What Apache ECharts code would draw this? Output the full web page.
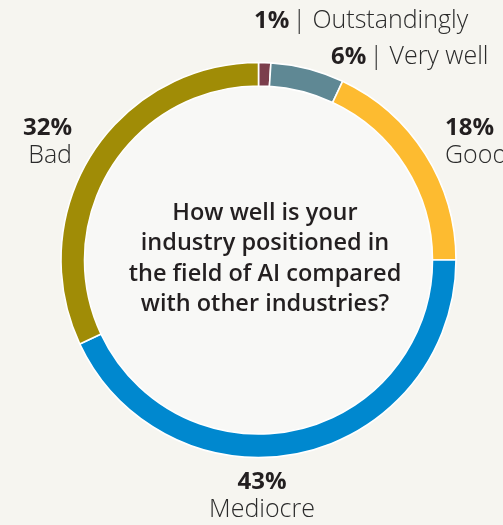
<!DOCTYPE html>
<html>
<head>
<meta charset="utf-8">
<script src="https://cdn.jsdelivr.net/npm/echarts@6/dist/echarts.min.js"></script>
<style>
  html, body { margin: 0; padding: 0; background: #f6f5f0; }
  #chart { width: 503px; height: 525px; }
</style>
</head>
<body>
<div id="chart"></div>
<script>
// Survey answers, clockwise from the top of the ring
const categories = ['Outstandingly', 'Very well', 'Good', 'Mediocre', 'Bad'];
const shares = [1, 6, 18, 43, 32];
const sliceColors = ['#7b3e4c', '#5f8894', '#fdbb30', '#0088cf', '#a08c06'];
const question = 'How well is your\nindustry positioned in\nthe field of AI compared\nwith other industries?';

// Where each answer's label sits around the ring
const labelSpots = [
  { x: 254, y: 21, align: 'left' },
  { x: 331, y: 57, align: 'left' },
  { x: 445, y: 142, align: 'left' },
  { x: 262, y: 496, align: 'center' },
  { x: 72, y: 142, align: 'right' }
];
const inlineLabel = [true, true, false, false, false];

const FONT = 'Open Sans';

const chart = echarts.init(document.getElementById('chart'), null, { renderer: 'canvas' });

chart.setOption({
  backgroundColor: '#f6f5f0',
  animation: false,
  title: {
    text: question,
    left: 260,
    top: 193,
    textAlign: 'center',
    textStyle: {
      fontFamily: FONT,
      fontWeight: 600,
      fontSize: 23.5,
      lineHeight: 30.5,
      color: '#231f20'
    }
  },
  series: [
    {
      // pale inner disc
      type: 'pie',
      silent: true,
      center: [258.5, 260],
      radius: [0, 174],
      z: 1,
      label: { show: false },
      labelLine: { show: false },
      itemStyle: { color: '#f8f8f6' },
      data: [{ value: 1, name: 'disc' }]
    },
    {
      type: 'pie',
      center: [258.5, 260],
      radius: [174, 197.5],
      startAngle: 90,
      clockwise: true,
      z: 2,
      itemStyle: { borderColor: '#ffffff', borderWidth: 1.6 },
      labelLine: { show: false },
      label: {
        show: true,
        position: 'outside',
        overflow: 'none',
        fontFamily: FONT,
        formatter: function (p) {
          const i = p.dataIndex;
          return inlineLabel[i]
            ? '{p|' + p.value + '%} {s|| ' + p.name + '}'
            : '{p|' + p.value + '%}\n{n|' + p.name + '}';
        },
        rich: {
          p: { fontFamily: FONT, fontWeight: 'bold', fontSize: 24, color: '#231f20', lineHeight: 27 },
          n: { fontFamily: FONT, fontWeight: 300, fontSize: 25, color: '#2b2b2b', lineHeight: 28 },
          s: { fontFamily: FONT, fontWeight: 300, fontSize: 25, color: '#2b2b2b', lineHeight: 27 }
        }
      },
      labelLayout: function (params) {
        const spot = labelSpots[params.dataIndex];
        return { x: spot.x, y: spot.y, align: spot.align, verticalAlign: 'middle', hideOverlap: false };
      },
      data: categories.map((name, i) => ({
        name: name,
        value: shares[i],
        itemStyle: { color: sliceColors[i] }
      }))
    }
  ]
});
</script>
</body>
</html>
